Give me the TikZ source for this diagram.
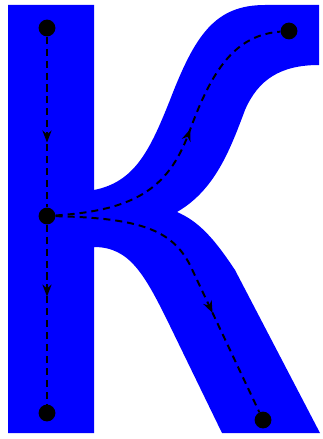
\documentclass[tikz,border=0pt]{standalone}
\usepackage{xcolor}
\usetikzlibrary{arrows.meta, decorations.markings}

\begin{document}
\begin{tikzpicture}[x=0.025cm, y=-0.025cm,
  vertex/.style={circle, fill=black, inner sep=0pt, minimum size=0.42cm},
  flow/.style={line width=1.4pt, dash pattern=on 5pt off 3.5pt, postaction={decorate},
    decoration={markings, mark=at position #1 with {\arrow{Stealth[length=8.5pt,width=6.5pt]}}}}]
  \useasboundingbox (0,0) rectangle (322,439);
  % the blue letter
  \fill[blue] (8,5) -- (94,5) -- (94,190)
    .. controls (135,182) and (150,150) .. (170,100)
    .. controls (195,35) and (215,5) .. (265,5) -- (319,5) -- (319,65)
    .. controls (280,65) and (258,80) .. (245,110)
    .. controls (230,150) and (215,190) .. (177,212)
    .. controls (200,222) and (215,240) .. (235,270) -- (320,433) -- (222,433) -- (170,326)
    .. controls (145,275) and (130,247) .. (94,247) -- (94,433) -- (8,433) -- cycle;
  % points
  \node[vertex] (top)   at (47,28)   {};
  \node[vertex] (mid)   at (47,216)  {};
  \node[vertex] (bot)   at (47,413)  {};
  \node[vertex] (upper) at (289,31)  {};
  \node[vertex] (lower) at (263,420) {};
  % paths
  \draw[flow=0.62] (top) -- (mid);
  \draw[flow=0.40] (mid) -- (bot);
  \draw[flow=0.55] (mid) .. controls (140,210) and (170,185) .. (190,130)
    .. controls (212,70) and (235,35) .. (upper);
  \draw[flow=0.65] (mid) .. controls (140,218) and (172,230) .. (190,265) -- (lower);
\end{tikzpicture}
\end{document}
